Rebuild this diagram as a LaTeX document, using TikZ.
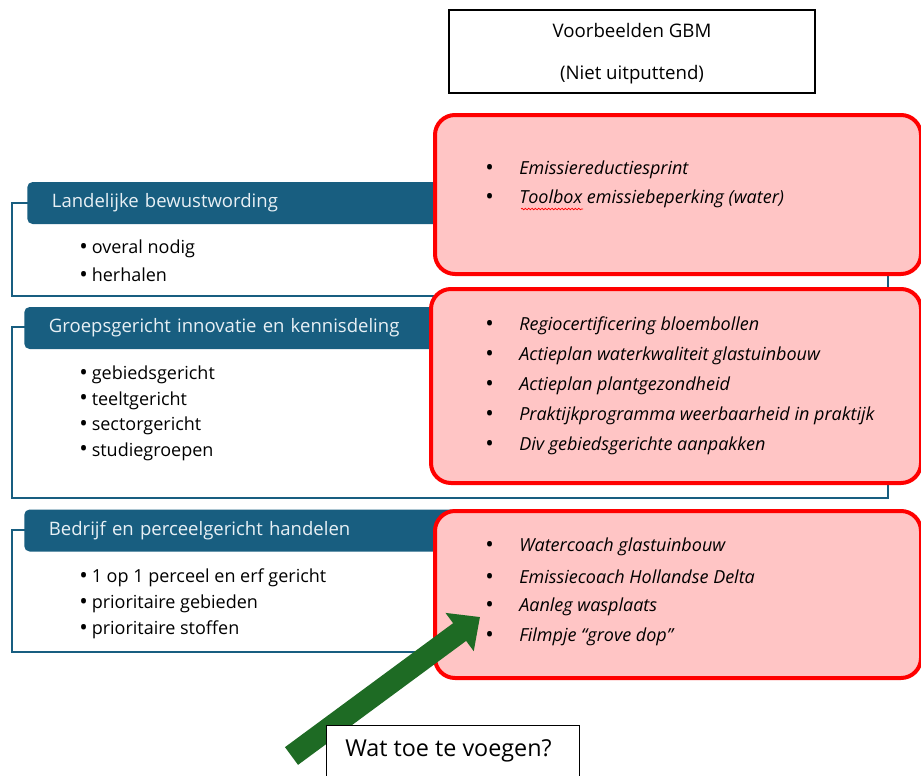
\documentclass[tikz,border=0pt]{standalone}
\usepackage{fontspec}
\setmainfont{Open Sans}
\usetikzlibrary{positioning, calc, arrows.meta, decorations.pathmorphing}
\definecolor{colHdr}{RGB}{24,94,128}
\definecolor{colHdrTxt}{RGB}{232,240,245}
\definecolor{colPink}{RGB}{255,197,197}
\definecolor{colGreen}{RGB}{30,107,36}
\newcommand{\bolletje}{\raisebox{-0.6pt}{\fontsize{17}{15}\selectfont\textbullet}}
\newcommand{\vpunt}[1]{\makebox[25.5pt][l]{\bolletje}\textit{#1}}

\begin{document}
\begin{tikzpicture}[x=0.75pt, y=-0.75pt,
    every node/.style={font=\fontsize{13.5}{15}\selectfont},
    kader/.style={draw=colHdr, line width=1.6pt},
    hdr/.style={fill=colHdr, rounded corners=4pt, anchor=west, minimum height=31.5pt,
        text width=290pt, align=left, inner xsep=18.5pt, text=colHdrTxt,
        font=\fontsize{13.9}{15}\selectfont},
    punt/.style={anchor=west, inner sep=0pt},
    voorb/.style={draw=red, fill=colPink, line width=3pt, rounded corners=15pt, anchor=north west},
    item/.style={anchor=west, inner sep=0pt},
    pijl/.style={colGreen, line width=16.5pt, -{Triangle[length=19pt, width=34.5pt]}}
]
    \clip (0,0) rectangle (921,775);
    \fill[white] (0,0) rectangle (921,775);

    % --- Titel ---
    \node[draw, line width=1.1pt, minimum width=274.5pt, minimum height=62.25pt] (titel) at (632,51.5) {};
    \node[font=\fontsize{14}{15}\selectfont] (titel1) at (632,30) {Voorbeelden GBM};
    \node[font=\fontsize{14}{15}\selectfont] (titel2) at (632,75) {(Niet uitputtend)};

    % --- Kaders links ---
    \draw[kader] (12,203) rectangle (888,296);
    \draw[kader] (12,327) rectangle (888,498);
    \draw[kader] (12,530) rectangle (888,652);

    \node[hdr] (h1) at (27,203) {Landelijke bewustwording};
    \node[hdr] (h2) at (24,328) {Groepsgericht innovatie en kennisdeling};
    \node[hdr] (h3) at (24,530.5) {Bedrijf en perceelgericht handelen};

    % Punten per kader
    \foreach \t [count=\i] in {overal nodig, herhalen}
        \node[punt] (a\i) at (79,{249+26*(\i-1)}) {\bolletje\hspace{3pt}\t};
    \foreach \t [count=\i] in {gebiedsgericht, teeltgericht, sectorgericht, studiegroepen}
        \node[punt] (b\i) at (79,{375+25.5*(\i-1)}) {\bolletje\hspace{3pt}\t};
    \foreach \t [count=\i] in {1 op 1 perceel en erf gericht, prioritaire gebieden, prioritaire stoffen}
        \node[punt] (c\i) at (79,{578+26*(\i-1)}) {\bolletje\hspace{3pt}\t};

    % --- Voorbeelden (rode kaders) ---
    \node[voorb, minimum width=364.5pt, minimum height=119.25pt] (v1) at (433,113) {};
    \node[voorb, minimum width=367.5pt, minimum height=145.5pt] (v2) at (429,287) {};
    \node[voorb, minimum width=364.5pt, minimum height=125.25pt] (v3) at (433,509) {};

    \foreach \t [count=\i] in {Emissiereductiesprint, Toolbox emissiebeperking (water)}
        \node[item] (v1\i) at (485,{170+29*(\i-1)}) {\vpunt{\t}};
    \draw[red, line width=0.5pt, decorate, decoration={snake, amplitude=0.6pt, segment length=2.5pt}]
        (521,209) -- (583,209); % spelling
    \foreach \t [count=\i] in {Regiocertificering bloembollen, Actieplan waterkwaliteit glastuinbouw,
            Actieplan plantgezondheid, Praktijkprogramma weerbaarheid in praktijk, Div gebiedsgerichte aanpakken}
        \node[item] (v2\i) at (485,{326+30*(\i-1)}) {\vpunt{\t}};
    \foreach \t [count=\i] in {Watercoach glastuinbouw, Emissiecoach Hollandse Delta,
            Aanleg wasplaats, Filmpje “grove dop”}
        \node[item] (v3\i) at (485,{547+30*(\i-1)}) {\vpunt{\t}};

    % --- Pijl ---
    \coordinate (pijlstart) at (291.5,756);
    \coordinate (pijlpunt) at (480,617);
    \draw[pijl] (pijlstart) -- (pijlpunt);

    % --- Vraag ---
    \node[draw, fill=white, line width=1.1pt, anchor=north west, minimum width=189.75pt,
        minimum height=67.5pt] (vraag) at (326,725) {};
    \node[anchor=west, inner sep=0pt, font=\fontsize{17.5}{18}\selectfont] (vraagtxt) at (345,751) {Wat toe te voegen?};
\end{tikzpicture}
\end{document}
